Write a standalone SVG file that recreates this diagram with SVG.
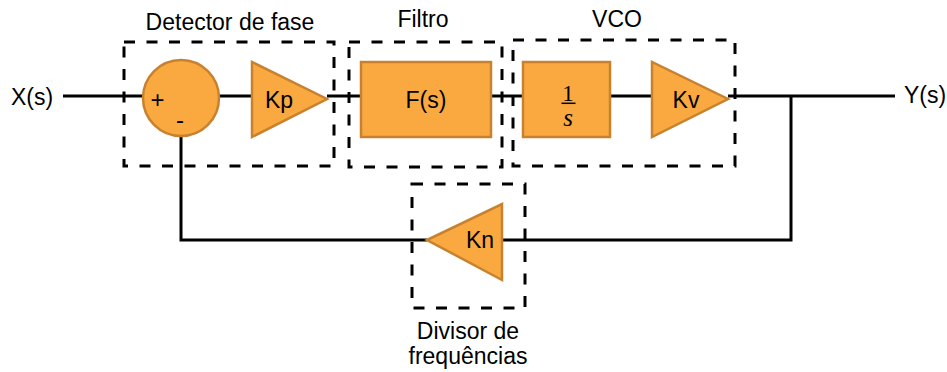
<svg xmlns="http://www.w3.org/2000/svg" width="947" height="372" viewBox="0 0 947 372">
<style>
.blk{fill:#FAA940;stroke:#C8822F;stroke-width:2.5}
.dash{fill:none;stroke:#000;stroke-width:3;stroke-dasharray:11 11.5}
.wire{fill:none;stroke:#000;stroke-width:3}
text{font-family:"Liberation Sans",Arial,sans-serif;font-size:23px;fill:#000}
.c{text-anchor:middle}
.sg{font-size:24px;text-anchor:middle}
</style>
<rect width="947" height="372" fill="#fff"/>
<g id="connectors">
<path class="wire" d="M63 96H143"/>
<path class="wire" d="M219 96H252"/>
<path class="wire" d="M327 96H361"/>
<path class="wire" d="M491 96H523"/>
<path class="wire" d="M610 96H652"/>
<path class="wire" d="M728 96H895"/>
<path class="wire" d="M791 96V240H502"/>
<path class="wire" d="M427 240H181V137"/>
</g>
<g id="detector">
<rect class="dash" x="124" y="42" width="210" height="124"/>
<text class="c" x="230" y="30">Detector de fase</text>
</g>
<g id="sum">
<circle class="blk" cx="181" cy="98" r="38"/>
<text x="157.5" y="108" class="sg">+</text>
<text x="180" y="128" class="sg">-</text>
</g>
<g id="kp">
<polygon class="blk" points="252,62 252,137 327,99"/>
<text class="c" x="279" y="108">Kp</text>
</g>
<g id="filtro">
<rect class="dash" x="349" y="42" width="153" height="125"/>
<text class="c" x="423" y="27">Filtro</text>
</g>
<g id="fs">
<rect class="blk" x="361" y="62" width="130" height="75"/>
<text class="c" x="426" y="108">F(s)</text>
</g>
<g id="vco">
<rect class="dash" x="513" y="40" width="222" height="126"/>
<text class="c" x="617" y="27">VCO</text>
</g>
<g id="integ">
<rect class="blk" x="523" y="62" width="87" height="75"/>
<text class="c" x="568" y="101" style="font-family:'Liberation Serif',serif;font-size:23px">1</text>
<path d="M561.5 103.3H575.5" stroke="#000" stroke-width="1.5"/>
<text class="c" x="568" y="126" style="font-family:'Liberation Serif',serif;font-style:italic;font-size:25px">s</text>
</g>
<g id="kv">
<polygon class="blk" points="652,62 652,137 728,99"/>
<text class="c" x="686" y="108">Kv</text>
</g>
<g id="divisor">
<rect class="dash" x="412" y="184" width="113" height="124"/>
<text class="c" x="468" y="339">Divisor de</text>
<text class="c" x="468" y="364">frequências</text>
</g>
<g id="kn">
<polygon class="blk" points="427,240 502,204 502,280"/>
<text class="c" x="480" y="248">Kn</text>
</g>
<g id="io">
<text x="11" y="105">X(s)</text>
<text x="904" y="103">Y(s)</text>
</g>
</svg>
